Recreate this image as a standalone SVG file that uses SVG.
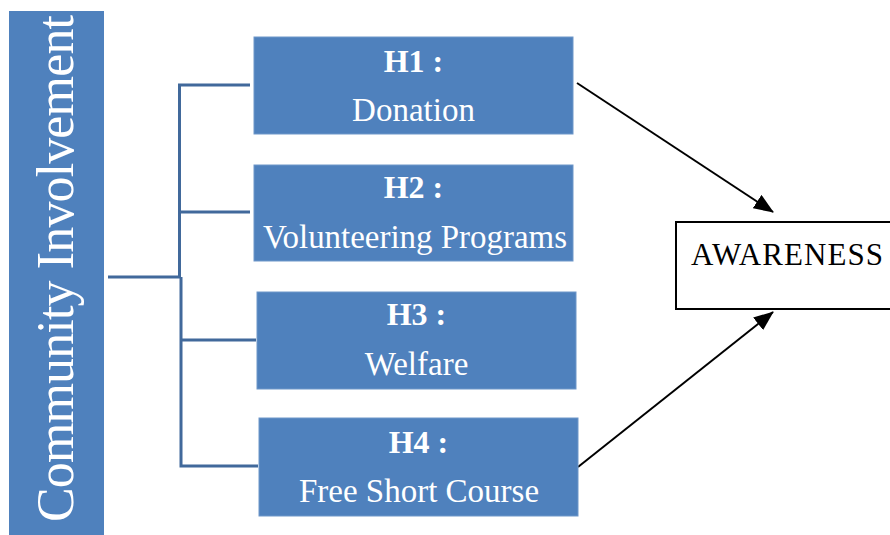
<svg xmlns="http://www.w3.org/2000/svg" width="890" height="535" viewBox="0 0 890 535">
<defs>
<style>
text{font-family:'Liberation Serif','DejaVu Serif',serif}
.box{fill:#4f81bd;stroke:#6f97c9;stroke-width:1}
.hd{font-weight:bold;font-size:32px;fill:#fff;text-anchor:middle}
.lb{font-size:33px;fill:#fff;text-anchor:middle}
.tree{fill:none;stroke:#41699b;stroke-width:3}
.arr{fill:none;stroke:#000;stroke-width:2}
</style>
<marker id="ahb" viewBox="0 0 20 16" refX="19" refY="8" markerWidth="20" markerHeight="16" orient="auto" markerUnits="userSpaceOnUse">
<path d="M0,0 L20,8 L0,16 z" fill="#000"/>
</marker>
</defs>
<rect width="890" height="535" fill="#fff"/>
<g id="community">
<rect x="9" y="11" width="95" height="524" fill="#4f81bd"/>
<text transform="translate(73,522) rotate(-90)" font-size="52" fill="#fff" textLength="507" lengthAdjust="spacing">Community Involvement</text>
</g>
<g id="connectors">
<path class="tree" d="M108,277 H181"/>
<path class="tree" d="M250,85 H179.5 V277"/>
<path class="tree" d="M179.5,212 H250"/>
<path class="tree" d="M181,277 V466 H258"/>
<path class="tree" d="M181,340 H256"/>
<line class="arr" x1="577" y1="83" x2="773" y2="212" marker-end="url(#ahb)"/>
<line class="arr" x1="578" y1="467" x2="773" y2="312" marker-end="url(#ahb)"/>
</g>
<g id="h1">
<rect class="box" x="254" y="37" width="319" height="97"/>
<text class="hd" x="413.5" y="72">H1 :</text>
<text class="lb" x="413.5" y="121">Donation</text>
</g>
<g id="h2">
<rect class="box" x="254" y="165" width="319" height="96"/>
<text class="hd" x="413.5" y="198">H2 :</text>
<text class="lb" x="415" y="248" textLength="304" lengthAdjust="spacingAndGlyphs">Volunteering Programs</text>
</g>
<g id="h3">
<rect class="box" x="257" y="292" width="319" height="97"/>
<text class="hd" x="416.5" y="325">H3 :</text>
<text class="lb" x="416.5" y="375">Welfare</text>
</g>
<g id="h4">
<rect class="box" x="259" y="418" width="319" height="98"/>
<text class="hd" x="418.5" y="453">H4 :</text>
<text class="lb" x="419" y="502">Free Short Course</text>
</g>
<g id="awareness">
<rect x="676" y="222" width="216" height="87" fill="#fff" stroke="#000" stroke-width="2"/>
<text x="691" y="265" font-size="31" fill="#000" textLength="192" lengthAdjust="spacing">AWARENESS</text>
</g>
</svg>
